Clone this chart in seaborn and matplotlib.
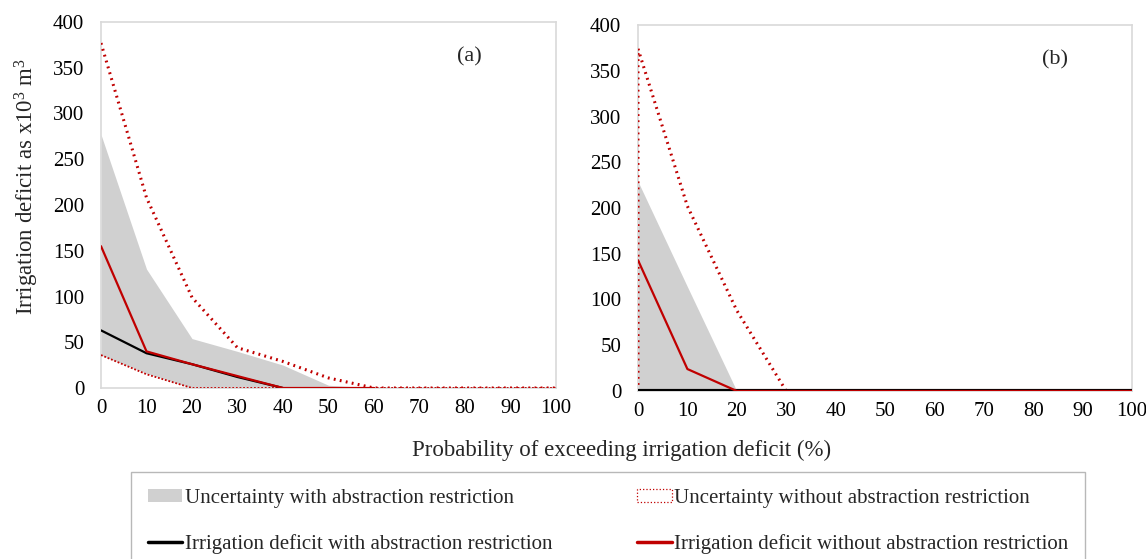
import numpy as np
import pandas as pd
import matplotlib
matplotlib.use("Agg")
import matplotlib.pyplot as plt
from matplotlib.patches import Patch
from matplotlib.lines import Line2D
import seaborn as sns

sns.set_style("white")
plt.rcParams['font.family'] = ['Liberation Serif', 'DejaVu Serif']
plt.rcParams['mathtext.fontset'] = 'custom'
plt.rcParams['mathtext.rm'] = 'Liberation Serif'
plt.rcParams['mathtext.default'] = 'regular'

RED = '#c00000'
GREY = '#d0d0d0'
SPINE = '#d9d9d9'

prob = [0, 10, 20, 30, 40, 50, 60, 70, 80, 90, 100]

# panel (a)
a_band_hi = [277, 130, 54, 40, 25, 3, 0, 0, 0, 0, 0]
a_band_lo = [36, 16, 0, 0, 0, 0, 0, 0, 0, 0, 0]
a_unc_hi = [377, 208, 99, 44, 29, 11, 0, 0, 0, 0, 0]
a_unc_lo = [36, 15, 0, 0, 0, 0, 0, 0, 0, 0, 0]
a_with = [63, 38, 26, 12, 0, np.nan, np.nan, np.nan, np.nan, np.nan, np.nan]
a_without = [155, 40, 26, 13, 0, 0, 0, np.nan, np.nan, np.nan, np.nan]

# panel (b)
b_band_hi = [229, 114, 0, 0, 0, 0, 0, 0, 0, 0, 0]
b_band_lo = [0, 0, 0, 0, 0, 0, 0, 0, 0, 0, 0]
b_unc_x = [0, 0, 10, 20, 30, 40, 50, 60, 70, 80, 90, 100]
b_unc_hi = [0, 374, 202, 88, 0, 0, 0, 0, 0, 0, 0, 0]
b_unc_lo = [0, 0, 0, 0, 0, 0, 0, 0, 0, 0, 0]
b_with = [0, 0, 0, 0, 0, 0, 0, 0, 0, 0, 0]
b_without = [143, 24, 0, 0, 0, 0, 0, 0, 0, 0, 0]

fig = plt.figure(figsize=(11.46, 5.59), dpi=100)
ax_a = fig.add_axes([101 / 1146, 1 - 388 / 559, 455 / 1146, 366 / 559])
ax_b = fig.add_axes([638 / 1146, 1 - 391 / 559, 494 / 1146, 366 / 559])


def draw_panel(ax, band_hi, band_lo, unc_x_hi, unc_hi, unc_lo, with_r, without_r,
               black_lw, label, lx):
    ax.fill_between(prob, band_lo, band_hi, color=GREY, lw=0, zorder=1)
    # estimator=None keeps the repeated x=0 point (vertical edge in panel b)
    sns.lineplot(x=unc_x_hi, y=unc_hi, ax=ax, color=RED, lw=2.2, sort=False,
                 estimator=None, linestyle=(0, (0.6, 1.4)), zorder=3)
    sns.lineplot(x=prob, y=unc_lo, ax=ax, color=RED, lw=1.3,
                 linestyle=(0, (1, 1)), zorder=3)
    sns.lineplot(x=prob, y=with_r, ax=ax, color='black', lw=black_lw, zorder=4)
    sns.lineplot(x=prob, y=without_r, ax=ax, color=RED, lw=1.6, zorder=5)
    ax.set_xlim(0, 100)
    ax.set_ylim(0, 400)
    ax.set_xticks(prob)
    ax.set_yticks(range(0, 401, 50))
    ax.tick_params(axis='both', length=0, labelsize=15, colors='black')
    ax.tick_params(axis='y', pad=12)
    ax.tick_params(axis='x', pad=8)
    for s in ax.spines.values():
        s.set_color(SPINE)
        s.set_linewidth(1.2)
    ax.set_xlabel('')
    ax.set_ylabel('')
    ax.text(lx, 0.905, label, transform=ax.transAxes, fontsize=16, ha='center', va='center')


draw_panel(ax_a, a_band_hi, a_band_lo, prob, a_unc_hi, a_unc_lo, a_with, a_without,
           1.6, '(a)', 0.81)
draw_panel(ax_b, b_band_hi, b_band_lo, b_unc_x, b_unc_hi, b_unc_lo, b_with, b_without,
           3.0, '(b)', 0.844)

ax_a.set_ylabel('Irrigation deficit as x10$^{3}$ m$^{3}$', fontsize=16.5, va='center')
ax_a.yaxis.set_label_coords(-0.163, 0.55)
fig.text(622 / 1146, 1 - 450 / 559, 'Probability of exceeding irrigation deficit (%)',
         fontsize=16.5, ha='center', va='center')

handles = [
    Patch(facecolor=GREY, edgecolor='none'),
    Line2D([], [], color='black', lw=2.5),
    Patch(facecolor='white', edgecolor=RED, linestyle=':', lw=0.9),
    Line2D([], [], color=RED, lw=2.5),
]
labels = [
    'Uncertainty with abstraction restriction',
    'Irrigation deficit with abstraction restriction',
    'Uncertainty without abstraction restriction',
    'Irrigation deficit without abstraction restriction',
]
leg = fig.legend(handles, labels, loc='upper left', bbox_to_anchor=(131 / 1146, 1 - 472 / 559),
                 ncol=2, fontsize=15, frameon=True, fancybox=False, handlelength=1.65,
                 handleheight=0.6, handletextpad=0.12, labelspacing=1.25, columnspacing=4.1,
                 borderpad=0.8, borderaxespad=0)
leg.get_frame().set_edgecolor('#a6a6a6')
leg.get_frame().set_linewidth(1.0)

fig.savefig('out.png', dpi=100)
